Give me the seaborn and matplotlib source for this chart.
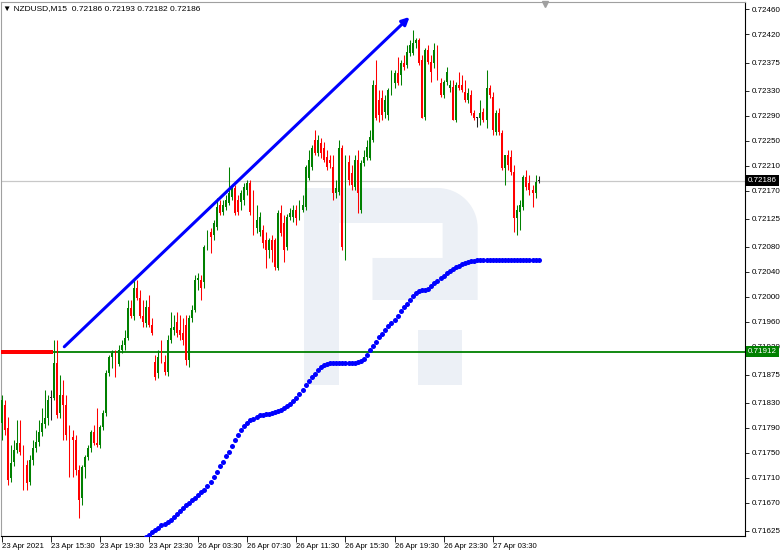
import numpy as np
import pandas as pd
import matplotlib
matplotlib.use('Agg')
import matplotlib.pyplot as plt
import matplotlib.transforms as mtransforms
from matplotlib.patches import Polygon, Rectangle
import seaborn as sns

# NZDUSD M15 candles, prices in 1e-5 units (bar 0 = 23 Apr 11:30)
opens = [71798, 71827, 71790, 71710, 71736, 71755, 71766, 71755, 71731, 71704, 71739, 71758, 71768, 71784, 71797, 71806,
         71838, 71838, 71894, 71814, 71843, 71827, 71782, 71776, 71771, 71723, 71678, 71728, 71744, 71758, 71784, 71766,
         71763, 71792, 71814, 71878, 71904, 71907, 71893, 71915, 71923, 71934, 71982, 71969, 72014, 71998, 71969, 71958,
         71984, 71955, 71896, 71878, 71904, 71896, 71880, 71931, 71947, 71960, 71947, 71942, 71955, 71899, 71966, 71979,
         72027, 72027, 72024, 72080, 72104, 72099, 72112, 72147, 72136, 72144, 72150, 72160, 72174, 72155, 72152, 72155,
         72171, 72182, 72160, 72110, 72104, 72107, 72091, 72075, 72091, 72091, 72046, 72134, 72118, 72080, 72128, 72128,
         72139, 72128, 72139, 72144, 72190, 72208, 72251, 72230, 72246, 72238, 72224, 72219, 72208, 72166, 72168, 72238,
         72075, 72216, 72198, 72176, 72219, 72139, 72214, 72224, 72222, 72251, 72339, 72315, 72318, 72296, 72291, 72328,
         72342, 72358, 72355, 72374, 72371, 72390, 72390, 72406, 72411, 72379, 72288, 72395, 72376, 72374, 72395, 72342,
         72323, 72344, 72334, 72336, 72283, 72339, 72339, 72328, 72315, 72323, 72294, 72286, 72286, 72296, 72283, 72334,
         72320, 72264, 72294, 72262, 72206, 72227, 72224, 72200, 72126, 72136, 72144, 72192, 72182, 72171, 72166, 72186]
highs = [71843, 71835, 71808, 71763, 71771, 71803, 71803, 71763, 71739, 71747, 71771, 71787, 71803, 71822, 71851, 71843,
         71851, 71931, 71931, 71875, 71867, 71843, 71795, 71787, 71779, 71731, 71731, 71747, 71763, 71787, 71795, 71822,
         71795, 71819, 71883, 71907, 71915, 71915, 71923, 71931, 71947, 71995, 71995, 72027, 72027, 72011, 71995, 71995,
         72003, 71966, 71907, 71915, 71931, 71907, 71939, 71976, 71971, 71976, 71971, 71966, 71971, 71971, 71987, 72035,
         72038, 72035, 72083, 72107, 72110, 72123, 72158, 72155, 72155, 72163, 72208, 72179, 72179, 72163, 72171, 72182,
         72187, 72187, 72171, 72147, 72136, 72115, 72104, 72094, 72099, 72094, 72139, 72147, 72131, 72133, 72142, 72147,
         72147, 72155, 72163, 72211, 72235, 72243, 72267, 72259, 72254, 72248, 72235, 72227, 72227, 72187, 72251, 72243,
         72227, 72227, 72211, 72227, 72235, 72219, 72235, 72251, 72267, 72347, 72379, 72331, 72331, 72323, 72334, 72363,
         72363, 72384, 72379, 72387, 72403, 72411, 72427, 72414, 72414, 72387, 72398, 72403, 72387, 72406, 72403, 72350,
         72347, 72368, 72347, 72347, 72344, 72360, 72355, 72347, 72334, 72331, 72299, 72288, 72315, 72302, 72363, 72339,
         72328, 72299, 72302, 72267, 72227, 72235, 72235, 72211, 72147, 72155, 72195, 72203, 72195, 72179, 72195, 72193]
lows = [71771, 71779, 71699, 71704, 71729, 71750, 71747, 71691, 71691, 71699, 71731, 71752, 71761, 71777, 71790, 71795,
        71803, 71835, 71806, 71806, 71771, 71771, 71712, 71712, 71715, 71646, 71667, 71710, 71739, 71752, 71763, 71760,
        71758, 71787, 71809, 71873, 71886, 71872, 71889, 71910, 71915, 71931, 71966, 71963, 71995, 71966, 71952, 71952,
        71952, 71939, 71867, 71870, 71894, 71875, 71873, 71926, 71939, 71936, 71931, 71923, 71891, 71888, 71960, 71976,
        72011, 71995, 72014, 72075, 72070, 72091, 72107, 72131, 72131, 72139, 72147, 72155, 72131, 72131, 72139, 72147,
        72163, 72131, 72099, 72102, 72097, 72078, 72046, 72062, 72056, 72043, 72043, 72097, 72056, 72075, 72123, 72120,
        72115, 72123, 72136, 72139, 72187, 72203, 72227, 72225, 72222, 72216, 72203, 72206, 72155, 72158, 72163, 72075,
        72059, 72179, 72171, 72171, 72134, 72134, 72209, 72219, 72219, 72248, 72283, 72280, 72283, 72286, 72283, 72323,
        72334, 72339, 72339, 72363, 72366, 72385, 72387, 72398, 72371, 72286, 72283, 72373, 72344, 72366, 72347, 72320,
        72318, 72339, 72328, 72283, 72280, 72331, 72328, 72312, 72310, 72291, 72283, 72272, 72275, 72280, 72270, 72318,
        72259, 72259, 72259, 72203, 72179, 72203, 72195, 72104, 72099, 72107, 72139, 72171, 72163, 72144, 72158, 72182]
closes = [71835, 71787, 71707, 71734, 71755, 71766, 71752, 71728, 71702, 71739, 71758, 71768, 71784, 71798, 71806, 71835,
          71838, 71894, 71811, 71843, 71827, 71779, 71774, 71771, 71723, 71675, 71728, 71744, 71758, 71784, 71766, 71763,
          71792, 71814, 71878, 71904, 71910, 71891, 71915, 71923, 71934, 71982, 71969, 72014, 71998, 71969, 71960, 71984,
          71955, 71942, 71872, 71904, 71896, 71880, 71931, 71950, 71952, 71942, 71939, 71931, 71899, 71966, 71979, 72027,
          72030, 72014, 72080, 72102, 72096, 72118, 72144, 72134, 72147, 72155, 72166, 72174, 72134, 72136, 72166, 72176,
          72182, 72136, 72107, 72123, 72128, 72086, 72075, 72091, 72075, 72048, 72134, 72102, 72075, 72128, 72134, 72139,
          72126, 72142, 72147, 72208, 72219, 72238, 72230, 72251, 72230, 72219, 72208, 72214, 72166, 72174, 72238, 72080,
          72216, 72187, 72179, 72219, 72166, 72214, 72224, 72240, 72256, 72339, 72286, 72291, 72291, 72315, 72331, 72358,
          72358, 72342, 72374, 72368, 72392, 72403, 72406, 72411, 72374, 72286, 72395, 72376, 72360, 72395, 72350, 72323,
          72344, 72360, 72339, 72283, 72339, 72334, 72331, 72315, 72326, 72294, 72286, 72286, 72294, 72283, 72334, 72323,
          72267, 72294, 72264, 72206, 72227, 72211, 72200, 72126, 72139, 72147, 72192, 72176, 72171, 72166, 72184, 72186]

# blue dotted indicator, first value belongs to bar 47
ind_first_bar = 47
indicator = [71615, 71619, 71623, 71627, 71630, 71634, 71637, 71640, 71643, 71648, 71653, 71657, 71662, 71666, 71670,
             71674, 71678, 71682, 71687, 71691, 71697, 71704, 71711, 71720, 71729, 71736, 71745, 71752, 71761, 71770,
             71779, 71786, 71793, 71798, 71802, 71805, 71808, 71810, 71811, 71812, 71813, 71814, 71815, 71817, 71819,
             71822, 71825, 71829, 71833, 71838, 71844, 71851, 71858, 71865, 71871, 71877, 71883, 71887, 71891, 71893,
             71894, 71894, 71894, 71894, 71894, 71894, 71894, 71894, 71894, 71895, 71897, 71901, 71907, 71914, 71921,
             71928, 71935, 71941, 71947, 71953, 71958, 71963, 71970, 71977, 71983, 71989, 71995, 72001, 72006, 72009,
             72011, 72011, 72012, 72017, 72022, 72026, 72030, 72034, 72038, 72042, 72045, 72048, 72050, 72052, 72054,
             72056, 72057, 72058, 72059, 72059, 72059, 72059, 72059, 72059, 72059, 72059, 72059, 72059, 72059, 72059,
             72059, 72059, 72059, 72059, 72059, 72059, 72059, 72059, 72059]

time_labels = ['23 Apr 2021', '23 Apr 15:30', '23 Apr 19:30', '23 Apr 23:30', '26 Apr 03:30', '26 Apr 07:30',
               '26 Apr 11:30', '26 Apr 15:30', '26 Apr 19:30', '26 Apr 23:30', '27 Apr 03:30']
bars_per_label = 16
price_ticks = [0.72460, 0.72420, 0.72375, 0.72330, 0.72290, 0.72250, 0.72210, 0.72170, 0.72125, 0.72080, 0.72040,
               0.72000, 0.71960, 0.71920, 0.71875, 0.71830, 0.71790, 0.71750, 0.71710, 0.71670, 0.71625]

level = 0.71912          # green horizontal line + red dotted stub
red_stub_bars = 17
last_price = 0.72186
trend_from = (20.3, 0.71920)
trend_to = (132.9, 0.72448)
header = '\u25bc NZDUSD,M15  0.72186 0.72193 0.72182 0.72186'

GREEN = '#008000'
RED = '#ff0000'
BLUE = '#0000ff'

df = pd.DataFrame({'open': opens, 'high': highs, 'low': lows, 'close': closes}) / 1e5
df['bar'] = np.arange(len(df))
df['color'] = np.where(df.close > df.open, GREEN, np.where(df.close < df.open, RED, '#202020'))

ind = pd.DataFrame({'bar': np.arange(ind_first_bar, ind_first_bar + len(indicator)),
                    'value': np.array(indicator) / 1e5})

sns.set_style('white')
plt.rcParams['font.family'] = ['Liberation Sans', 'DejaVu Sans']

fig = plt.figure(figsize=(7.82, 5.52), dpi=100)
ax = fig.add_axes([0.0013, 0.029, 0.9514, 0.9674])
ax.set_xlim(-0.33, 242.3)
ax.set_ylim(0.71617, 0.72472)

# faint logo watermark (axes fraction, from picture pixels)
def fx(px):
    return (px - 2) / 743


def fy(py):
    return (536 - py) / 534


wm = '#ecf0f6'
t = np.linspace(0, np.pi / 2, 20)
bowl = [(fx(340), fy(188)), (fx(438), fy(188))]
bowl += [(fx(438 + 40 * np.sin(a)), fy(228 - 40 * np.cos(a))) for a in t]
bowl += [(fx(478), fy(300)), (fx(373), fy(300)), (fx(373), fy(258)), (fx(443), fy(258)),
         (fx(443), fy(223)), (fx(340), fy(223))]
ax.add_patch(Polygon(bowl, closed=True, transform=ax.transAxes, facecolor=wm, edgecolor='none', zorder=0))
ax.add_patch(Rectangle((fx(305), fy(385)), fx(340) - fx(305), fy(188) - fy(385), transform=ax.transAxes,
                       facecolor=wm, edgecolor='none', zorder=0))
ax.add_patch(Rectangle((fx(418), fy(385)), fx(462) - fx(418), fy(330) - fy(385), transform=ax.transAxes,
                       facecolor=wm, edgecolor='none', zorder=0))

# levels
ax.axhline(last_price, color='#c8c8c8', lw=0.9, zorder=1)
ax.axhline(level, color=GREEN, lw=1.3, zorder=2)

# candles
ax.vlines(df.bar, df.low, df.high, colors=df.color, lw=0.75, zorder=3)
body_lo = df[['open', 'close']].min(axis=1)
body_h = (df.close - df.open).abs().clip(lower=0.000014)
ax.bar(df.bar, body_h, bottom=body_lo, width=0.62, color=df.color, linewidth=0, zorder=4)

# indicators
sns.scatterplot(x=np.arange(red_stub_bars), y=np.full(red_stub_bars, level), marker='s', s=7,
                color=RED, linewidth=0, ax=ax, zorder=5, legend=False)
sns.scatterplot(data=ind, x='bar', y='value', marker='o', s=13, color=BLUE, linewidth=0,
                ax=ax, zorder=5, legend=False)

# trend arrow
ax.annotate('', xy=trend_to, xytext=trend_from,
            arrowprops=dict(arrowstyle='-|>', color=BLUE, lw=2.2, mutation_scale=11, shrinkA=0, shrinkB=0),
            zorder=6)

# axes styling
ax.set_xlabel('')
ax.set_ylabel('')
for side in ['left', 'top']:
    ax.spines[side].set_color('#a0a0a0')
for side in ['right', 'bottom']:
    ax.spines[side].set_color('black')
for sp in ax.spines.values():
    sp.set_linewidth(0.8)

ax.yaxis.tick_right()
ax.set_yticks(price_ticks)
ax.set_yticklabels([f'{v:.5f}' for v in price_ticks])
ax.set_xticks([i * bars_per_label for i in range(len(time_labels))])
ax.set_xticklabels(time_labels)
ax.tick_params(axis='y', right=True, left=False, length=3, width=0.6, labelsize=5.8, pad=2, colors='black')
ax.tick_params(axis='x', bottom=True, length=4, width=0.6, labelsize=5.6, pad=1, colors='black')
plt.setp(ax.get_xticklabels(), ha='left')

# price tags on the right scale
yx = mtransforms.blended_transform_factory(ax.transAxes, ax.transData)
ax.text(1.004, last_price, f'{last_price:.5f}', transform=yx, ha='left', va='center', fontsize=5.8, color='white',
        bbox=dict(boxstyle='square,pad=0.25', facecolor='black', edgecolor='none'), zorder=10, clip_on=False)
ax.text(1.004, level, f'{level:.5f}', transform=yx, ha='left', va='center', fontsize=5.8, color='white',
        bbox=dict(boxstyle='square,pad=0.25', facecolor=GREEN, edgecolor='none'), zorder=10, clip_on=False)

ax.text(0.003, 0.994, header, transform=ax.transAxes, ha='left', va='top', fontsize=6, color='black')
ax.plot([fx(545)], [0.997], marker='v', color='#a0a0a0', markersize=5, transform=ax.transAxes, clip_on=False)

fig.savefig('out.png', dpi=100, facecolor='white')
